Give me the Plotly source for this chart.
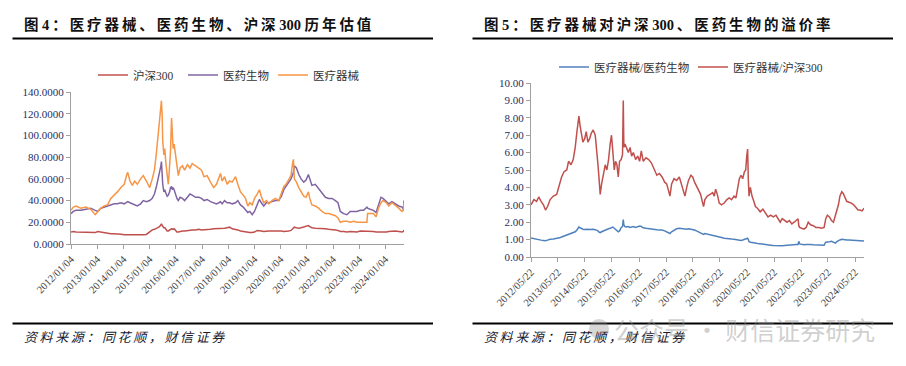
import plotly.graph_objects as go

# ---------------- Left chart data (图4) ----------------
left_dates = [
    "2012-01-04","2012-02-05","2012-03-13","2012-05-20","2012-07-30","2012-10-05","2012-12-06",
    "2013-01-10","2013-02-25","2013-04-10","2013-05-28","2013-07-12","2013-08-28","2013-10-12","2013-11-30",
    "2014-01-15","2014-02-20","2014-03-05","2014-04-05","2014-05-08","2014-06-10","2014-07-16","2014-09-01","2014-10-08","2014-11-20",
    "2015-01-05","2015-02-10","2015-03-12","2015-04-06","2015-04-28","2015-05-22","2015-06-10","2015-06-18","2015-06-28","2015-07-06",
    "2015-07-22","2015-08-04","2015-08-18","2015-09-06","2015-09-22","2015-10-10","2015-10-22","2015-11-06","2015-11-16","2015-11-28","2015-12-12",
    "2016-01-02","2016-01-20","2016-02-08","2016-03-04","2016-04-06","2016-05-06","2016-06-14","2016-07-20","2016-08-20","2016-10-06","2016-11-22","2016-12-28",
    "2017-02-01","2017-03-16","2017-05-02","2017-06-16","2017-07-24","2017-08-26","2017-09-18","2017-10-12","2017-11-14","2017-12-20",
    "2018-01-22","2018-03-01","2018-04-16","2018-05-18","2018-06-24","2018-08-01","2018-09-02","2018-10-04","2018-11-01","2018-12-04",
    "2019-01-05","2019-02-12","2019-03-14","2019-04-10","2019-05-14","2019-06-20","2019-07-26","2019-09-06","2019-10-24","2019-12-10",
    "2020-01-16","2020-02-18","2020-03-20","2020-04-26","2020-05-28","2020-06-21","2020-07-01","2020-07-14","2020-08-12","2020-09-14","2020-10-16","2020-11-22","2020-12-24",
    "2021-01-26","2021-02-14","2021-03-16","2021-05-02","2021-06-18","2021-08-04","2021-09-20","2021-11-04","2021-12-22",
    "2022-02-06","2022-03-14","2022-04-16","2022-06-01","2022-07-16","2022-09-01","2022-10-18","2022-12-04",
    "2023-01-20","2023-03-06","2023-04-22","2023-05-01","2023-06-06","2023-07-22","2023-08-28","2023-10-01","2023-11-04","2023-12-02",
    "2024-01-18","2024-02-20","2024-04-05","2024-05-20","2024-07-08","2024-08-24","2024-09-12","2024-09-20",
]
hs300_pe = [
    11, 11.5, 11, 11, 10.5, 10.5, 10.5,
    11.5, 11, 10, 10, 9.5, 9.5, 9.5, 9,
    8.5, 8.5, 8.5, 8.2, 8, 8, 8, 8.5, 8.5, 8.8,
    11, 13, 13.5, 14, 15, 16, 17.5, 18.5, 17, 16, 15, 15, 14, 12, 12, 13, 13.5, 14, 14, 13.5, 14,
    12.5, 11, 11, 11.5, 12, 12, 12.5, 13, 13, 13, 13.5, 13,
    13, 13.5, 13.5, 14, 14, 14, 14.5, 14.5, 14.5, 15,
    15.5, 14, 13.5, 13, 12, 11.5, 11, 11, 10.5, 10.5,
    11, 12.5, 12.5, 12, 11.5, 12, 12, 12, 12, 12.5,
    12, 11.5, 11.5, 12, 12.5, 14, 15, 15.5, 15, 14.5, 15, 15.5, 16.5,
    17, 16, 15, 14.5, 14.5, 14, 14, 13.5, 13.5,
    13, 12.5, 11.5, 11.5, 11, 11.5, 11, 11,
    12, 12, 12, 12, 11.5, 11.5, 11, 11, 10.5, 11,
    11, 11.5, 12, 12, 11.5, 11, 11.5, 13,
]
pharma_pe = [
    28, 30, 31, 31, 32, 33, 31,
    30, 33, 34, 35, 36, 37, 37, 38,
    37, 38, 39, 38, 37, 36, 35, 37, 40, 39,
    40, 42, 46, 52, 58, 64, 72, 76, 62, 55, 48, 50, 47, 44, 45, 48, 52, 53, 50, 52, 50,
    45, 42, 40, 43, 42, 40, 43, 46, 45, 43, 43, 42,
    40, 41, 39, 38, 37, 38, 39, 37, 40, 38,
    38, 37, 38, 40, 36, 34, 31, 29, 30, 27,
    30, 37, 41, 38, 35, 38, 38, 39, 40, 40,
    44, 50, 53, 57, 60, 64, 66, 72, 70, 64, 60, 57, 59,
    64, 60, 54, 55, 51, 46, 43, 42, 42,
    40, 38, 30, 28, 27, 30, 30, 30,
    31, 31, 34, 33, 32, 31, 29, 36, 43, 42,
    39, 37, 39, 37, 35, 34, 32, 40,
]
device_pe = [
    31, 34, 35, 33, 34, 32, 27,
    30, 33, 35, 36, 42, 45, 48, 52,
    55, 64, 66, 58, 54, 58, 55, 60, 63, 58,
    52, 60, 68, 82, 98, 112, 128, 132, 118, 95, 82, 88, 75, 60, 55, 72, 85, 116, 95, 88, 92,
    80, 68, 63, 70, 72, 68, 73, 70, 74, 72, 70, 68,
    62, 63, 57, 52, 55, 62, 65, 58, 62, 55,
    58, 57, 62, 55, 48, 45, 42, 35, 38, 36,
    42, 46, 50, 44, 38, 40, 37, 40, 42, 40,
    46, 53, 55, 60, 63, 75, 78, 60, 57, 52, 48, 44, 43,
    48, 42, 36, 35, 33, 30, 28, 28, 27,
    26, 24, 20, 21, 21, 20, 21, 20,
    20, 20, 20, 28, 28, 28, 25, 33, 38, 40,
    38, 35, 38, 36, 33, 30, 31, 38,
]
left_tickvals = ["%d-01-04" % y for y in range(2012, 2025)]
left_ticktext = ["%d/01/04" % y for y in range(2012, 2025)]
left_yticks = [0, 20, 40, 60, 80, 100, 120, 140]
left_yticktext = ["%.4f" % v for v in left_yticks]

# ---------------- Right chart data (图5) ----------------
right_dates = [
    "2012-05-22","2012-07-01","2012-08-06","2012-09-04","2012-10-05","2012-11-06","2012-12-04",
    "2013-01-01","2013-02-05","2013-03-20","2013-05-04","2013-06-10","2013-07-10","2013-08-12","2013-09-18","2013-10-12","2013-11-14","2013-12-14",
    "2014-01-10","2014-02-02","2014-02-17","2014-03-01","2014-03-18","2014-04-06","2014-04-24","2014-05-18","2014-06-08","2014-06-30",
    "2014-07-24","2014-08-14","2014-09-10","2014-10-08","2014-10-26","2014-11-14","2014-12-02","2014-12-14",
    "2015-01-02","2015-01-24","2015-02-20","2015-03-14","2015-04-06","2015-04-28","2015-05-16","2015-06-04","2015-06-22","2015-07-10",
    "2015-07-28","2015-08-15","2015-09-02","2015-09-24","2015-10-12","2015-10-22","2015-10-30","2015-11-14","2015-12-06","2015-12-30",
    "2016-01-22","2016-02-12","2016-03-06","2016-04-06","2016-05-04","2016-05-30","2016-06-22","2016-07-18","2016-08-24","2016-09-30","2016-11-06","2016-12-12",
    "2017-01-18","2017-02-22","2017-03-30","2017-05-04","2017-05-31","2017-06-26","2017-07-14","2017-08-06","2017-09-08","2017-10-12","2017-11-18","2017-12-22",
    "2018-01-12","2018-02-02","2018-02-26","2018-03-22","2018-04-24","2018-05-18","2018-06-12","2018-07-08","2018-08-06","2018-09-02",
    "2018-09-24","2018-10-12","2018-10-30","2018-12-02",
    "2019-01-08","2019-02-12","2019-03-06","2019-03-24","2019-04-16","2019-05-12","2019-06-12","2019-07-18","2019-08-24","2019-09-24",
    "2019-10-26","2019-11-28","2019-12-24",
    "2020-01-18","2020-02-08","2020-03-02","2020-03-24","2020-04-16","2020-05-04","2020-05-18","2020-05-30","2020-06-08","2020-06-18",
    "2020-07-06","2020-07-28","2020-08-22","2020-09-12","2020-10-10","2020-11-16","2020-12-22",
    "2021-01-26","2021-03-02","2021-04-06","2021-05-12","2021-06-18","2021-07-18","2021-08-14","2021-09-10","2021-10-12","2021-11-14","2021-12-16",
    "2022-01-18","2022-02-18","2022-03-20","2022-04-12","2022-04-22","2022-05-04","2022-05-30","2022-06-30","2022-07-30","2022-08-28",
    "2022-09-28","2022-11-04","2022-12-10",
    "2023-01-18","2023-02-24","2023-03-30","2023-04-22","2023-05-14","2023-06-10","2023-07-08","2023-08-04","2023-08-30","2023-09-18",
    "2023-10-10","2023-10-30","2023-11-24","2023-12-14",
    "2024-01-06","2024-01-30","2024-03-01","2024-04-02","2024-05-04","2024-06-04","2024-07-01","2024-07-28","2024-08-24","2024-09-20",
]
dev_vs_hs300 = [
    3.0, 3.3, 3.2, 3.45, 3.2, 3.0, 2.7,
    2.9, 3.3, 3.5, 3.6, 4.1, 4.6, 4.9, 5.0, 5.5, 5.3, 5.6,
    6.3, 7.2, 7.9, 8.1, 7.5, 7.0, 6.6, 6.8, 7.2, 6.6, 6.8, 7.1, 7.3, 7.0, 6.3, 5.3, 4.3, 3.6,
    4.2, 4.7, 5.3, 5.0, 5.6, 6.5, 7.0, 6.0, 5.0, 5.5, 5.3, 4.6, 5.5, 5.6, 5.9, 9.0, 6.3, 6.5, 6.2, 6.0,
    6.3, 5.8, 6.0, 5.6, 5.8, 5.5, 6.1, 5.5, 5.7, 5.6, 5.4, 5.0,
    4.7, 4.8, 4.6, 4.3, 4.2, 3.8, 3.5, 4.2, 4.5, 4.4, 4.6, 4.1,
    3.8, 3.5, 4.0, 4.4, 4.7, 4.6, 4.3, 4.1, 3.8, 3.6, 3.2, 2.9, 3.3, 3.5,
    3.6, 3.7, 3.5, 3.9, 3.6, 3.1, 3.0, 3.1, 3.3, 3.4, 3.3, 3.5, 3.4,
    4.0, 4.5, 4.7, 4.5, 4.9, 5.0, 5.8, 6.2, 4.5, 3.5, 4.0, 3.5, 3.2, 2.9, 2.8, 2.6, 2.75,
    2.5, 2.3, 2.4, 2.3, 2.4, 2.2, 2.0, 2.2, 2.1, 2.0, 2.1,
    1.9, 2.0, 2.1, 2.2, 1.8, 1.7, 1.65, 1.6, 1.7, 2.0, 1.85, 1.8, 1.7,
    1.7, 1.65, 1.7, 2.2, 2.4, 2.3, 2.1, 2.0, 2.4, 2.6, 3.0, 3.5, 3.75, 3.65,
    3.4, 3.2, 3.15, 3.1, 3.0, 2.8, 2.7, 2.7, 2.65, 2.8,
]
dev_vs_pharma = [
    1.10, 1.05, 1.02, 1.0, 0.97, 0.95, 0.93,
    0.97, 1.02, 1.03, 1.05, 1.1, 1.15, 1.2, 1.25, 1.3, 1.33, 1.38,
    1.45, 1.55, 1.65, 1.72, 1.68, 1.62, 1.6, 1.58, 1.6, 1.6, 1.58, 1.6, 1.6, 1.57, 1.55, 1.5, 1.42, 1.4,
    1.45, 1.5, 1.55, 1.58, 1.62, 1.65, 1.7, 1.72, 1.65, 1.6, 1.55, 1.45, 1.5, 1.7, 1.75, 2.15, 1.85, 1.75, 1.72, 1.75,
    1.7, 1.72, 1.75, 1.7, 1.72, 1.78, 1.75, 1.68, 1.65, 1.62, 1.6, 1.58,
    1.56, 1.55, 1.55, 1.5, 1.45, 1.42, 1.35, 1.45, 1.55, 1.62, 1.65, 1.62,
    1.6, 1.58, 1.6, 1.62, 1.6, 1.58, 1.55, 1.5, 1.45, 1.38, 1.35, 1.3, 1.35, 1.32,
    1.28, 1.27, 1.25, 1.22, 1.2, 1.15, 1.12, 1.08, 1.05, 1.05, 1.03, 1.02, 1.0,
    1.0, 1.0, 0.95, 0.98, 1.02, 1.05, 1.05, 1.08, 1.0, 0.88, 0.85, 0.82, 0.82, 0.8, 0.78, 0.75, 0.73,
    0.72, 0.7, 0.68, 0.66, 0.65, 0.64, 0.62, 0.64, 0.66, 0.68, 0.7,
    0.7, 0.7, 0.72, 0.72, 0.9, 0.75, 0.72, 0.7, 0.72, 0.74, 0.72, 0.7, 0.7,
    0.68, 0.68, 0.68, 0.85, 0.88, 0.88, 0.9, 0.85, 0.8, 0.88, 0.95, 0.98, 1.02, 1.02,
    1.0, 0.98, 0.97, 0.96, 0.96, 0.95, 0.94, 0.93, 0.92, 0.92,
]
right_tickvals = ["%d-05-22" % y for y in range(2012, 2025)]
right_ticktext = ["%d/05/22" % y for y in range(2012, 2025)]
right_yticks = list(range(0, 11))
right_yticktext = ["%.2f" % v for v in right_yticks]

# ---------------- Text ----------------
title_left = "图\u00a04：医疗器械、医药生物、沪深\u00a0300\u00a0历年估值"
title_right = "图\u00a05：医疗器械对沪深\u00a0300、医药生物的溢价率"
source_text = "资料来源：同花顺，财信证券"
watermark = "公众号 · 财信证券研究"

RED = "#C0504D"
PURPLE = "#8064A2"
ORANGE = "#F79646"
BLUE = "#4F81BD"
SERIF = "Liberation Serif, Noto Sans CJK SC, serif"
W, H = 906, 366


def spaced(s, sep="\u2009"):
    out = ""
    for i, ch in enumerate(s):
        out += ch
        if i < len(s) - 1:
            nxt = s[i + 1]
            if not (ch.isdigit() and nxt.isdigit()) and ch != "\u00a0" and nxt != "\u00a0":
                out += sep
    return out


def px(x):
    return x / W


def py(y):
    return 1 - y / H


fig = go.Figure()
line_w = 1.5
fig.add_trace(go.Scatter(x=left_dates, y=hs300_pe, name="沪深300", mode="lines",
                         line=dict(color=RED, width=line_w), xaxis="x", yaxis="y", legend="legend"))
fig.add_trace(go.Scatter(x=left_dates, y=pharma_pe, name="医药生物", mode="lines",
                         line=dict(color=PURPLE, width=line_w), xaxis="x", yaxis="y", legend="legend"))
fig.add_trace(go.Scatter(x=left_dates, y=device_pe, name="医疗器械", mode="lines",
                         line=dict(color=ORANGE, width=line_w), xaxis="x", yaxis="y", legend="legend"))
fig.add_trace(go.Scatter(x=right_dates, y=dev_vs_pharma, name="医疗器械/医药生物", mode="lines",
                         line=dict(color=BLUE, width=line_w), xaxis="x2", yaxis="y2", legend="legend2"))
fig.add_trace(go.Scatter(x=right_dates, y=dev_vs_hs300, name="医疗器械/沪深300", mode="lines",
                         line=dict(color=RED, width=line_w), xaxis="x2", yaxis="y2", legend="legend2"))

axis_common = dict(showgrid=False, zeroline=False, showline=True, linecolor="#A0A0A0", linewidth=1,
                   ticks="outside", ticklen=4, tickcolor="#A0A0A0", tickwidth=1, automargin=False)
xtickfont = dict(family=SERIF, size=10.5, color="#3a3a3a")
ytickfont = dict(family=SERIF, size=11, color="#1F2F5F")

fig.update_layout(
    template="none",
    width=W, height=H, margin=dict(l=0, r=0, t=0, b=0, pad=0, autoexpand=False),
    paper_bgcolor="white", plot_bgcolor="white", showlegend=True,
    xaxis=dict(domain=[px(71), px(404)], anchor="y", type="date",
               range=["2012-01-04", "2024-09-20"], tickvals=left_tickvals, ticktext=left_ticktext,
               tickangle=-45, tickfont=xtickfont, **axis_common),
    yaxis=dict(domain=[py(244), py(92)], anchor="x", range=[0, 140], tickvals=left_yticks,
               ticktext=left_yticktext, tickfont=ytickfont, **axis_common),
    xaxis2=dict(domain=[px(531), px(864)], anchor="y2", type="date",
                range=["2012-05-22", "2024-09-20"], tickvals=right_tickvals, ticktext=right_ticktext,
                tickangle=-45, tickfont=xtickfont, **axis_common),
    yaxis2=dict(domain=[py(257), py(83)], anchor="x2", range=[0, 10], tickvals=right_yticks,
                ticktext=right_yticktext, tickfont=ytickfont, **axis_common),
    legend=dict(orientation="h", x=px(93), y=py(75), xanchor="left", yanchor="middle",
                font=dict(family=SERIF, size=11.5, color="#333333"), bgcolor="rgba(0,0,0,0)",
                borderwidth=0, entrywidth=45, itemwidth=30, tracegroupgap=0),
    legend2=dict(orientation="h", x=px(554), y=py(67), xanchor="left", yanchor="middle",
                 font=dict(family=SERIF, size=11.5, color="#333333"), bgcolor="rgba(0,0,0,0)",
                 borderwidth=0, entrywidth=94, itemwidth=30, tracegroupgap=0),
)

title_font = dict(family="Liberation Serif, Noto Sans CJK SC", size=14.5, color="#111111", weight="bold")
src_font = dict(family="Liberation Serif, Noto Sans CJK SC", size=13, color="#1a1a30", style="italic")
ann = [
    dict(text=spaced(title_left), x=px(22), y=py(25), font=title_font),
    dict(text=spaced(title_right), x=px(482), y=py(25), font=title_font),
    dict(text=spaced(source_text), x=px(22), y=py(337), font=src_font),
    dict(text=spaced(source_text), x=px(482), y=py(337), font=src_font),
    dict(text=watermark, x=px(612), y=py(329),
         font=dict(family="Noto Sans CJK SC", size=25, color="rgba(140,140,140,0.42)")),
]
for a in ann:
    fig.add_annotation(xref="paper", yref="paper", xanchor="left", yanchor="middle",
                       showarrow=False, **a)

shapes = []
for x0, x1 in [(12.5, 433), (472.5, 893)]:
    shapes.append(dict(type="line", xref="paper", yref="paper", x0=px(x0), x1=px(x1),
                       y0=py(38.5), y1=py(38.5), line=dict(color="black", width=2)))
    shapes.append(dict(type="line", xref="paper", yref="paper", x0=px(x0), x1=px(x1),
                       y0=py(323.5), y1=py(323.5), line=dict(color="black", width=2)))
# watermark icon
shapes.append(dict(type="circle", xref="paper", yref="paper", x0=px(589), x1=px(609),
                   y0=py(339), y1=py(319), line=dict(width=0), fillcolor="rgba(140,140,140,0.35)"))
fig.update_layout(shapes=shapes)

fig.write_html("out.html", config={"displayModeBar": False},
               post_script="document.body.style.margin='0px';document.body.style.padding='0px';")
